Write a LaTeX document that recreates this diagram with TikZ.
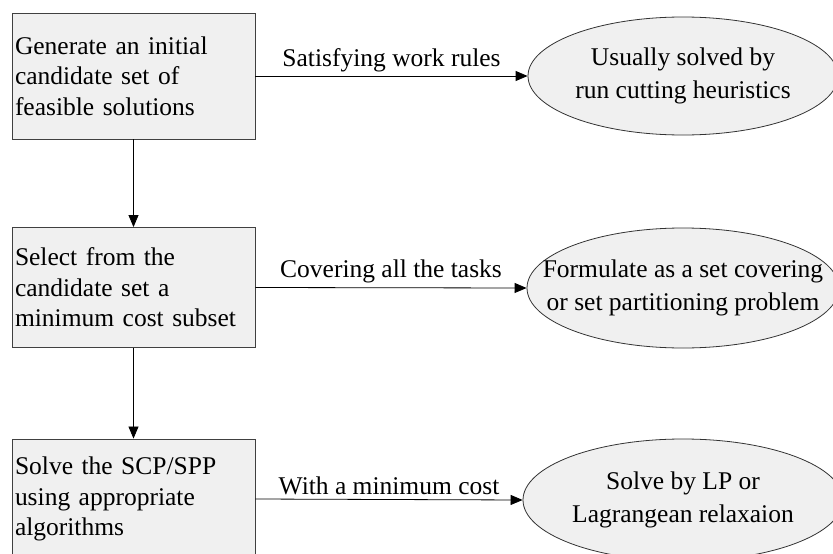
\documentclass[tikz,border=0pt]{standalone}
\usepackage{fontspec}
\setmainfont{Liberation Serif}
\usetikzlibrary{arrows.meta,shapes.geometric}
\begin{document}
\begin{tikzpicture}[x=1pt,y=-1pt,
  txt/.style={font=\fontsize{25.5}{30.5}\selectfont},
  stepbox/.style={draw=black!75,fill=black!6,line width=0.9pt,minimum width=243pt,text width=237pt,align=left,inner sep=3pt,txt},
  oval/.style={ellipse,draw=black!80,fill=black!6,line width=0.8pt,align=center,inner xsep=-70pt,inner ysep=-30pt,font=\fontsize{25.5}{33}\selectfont},
  conn/.style={line width=0.8pt,-{Triangle[length=12pt,width=10pt]}},
  lbl/.style={txt,above,inner sep=4pt}]
\useasboundingbox (0,0) rectangle (833,554);
\clip (0,0) rectangle (833,554);
\node[stepbox,minimum height=126pt] (b1) at (133.5,76) {Generate an initial\\candidate set of\\feasible solutions};
\node[stepbox,minimum height=120pt] (b2) at (133.5,287.5) {Select from the\\candidate set a\\minimum cost subset};
\node[stepbox,minimum height=120pt] (b3) at (133.5,499) {Solve the SCP/SPP\\using appropriate\\algorithms};
\node[oval,minimum width=310pt,minimum height=118pt] (e1) at (683,76) {Usually solved by\\run cutting heuristics};
\node[oval,minimum width=312pt,minimum height=120pt] (e2) at (683,288) {Formulate as a set covering\\or set partitioning problem};
\node[oval,minimum width=320pt,minimum height=122pt] (e3) at (683,500) {Solve by LP or\\Lagrangean relaxaion};
\draw[conn] (b1) -- (b2);
\draw[conn] (b2) -- (b3);
\draw[conn] (b1.east) -- node[lbl]{Satisfying work rules} (e1.west);
\draw[conn] (b2.east) -- node[lbl]{Covering all the tasks} (e2.west);
\draw[conn] (b3.east) -- node[lbl]{With a minimum cost} (e3.west);
\end{tikzpicture}
\end{document}
